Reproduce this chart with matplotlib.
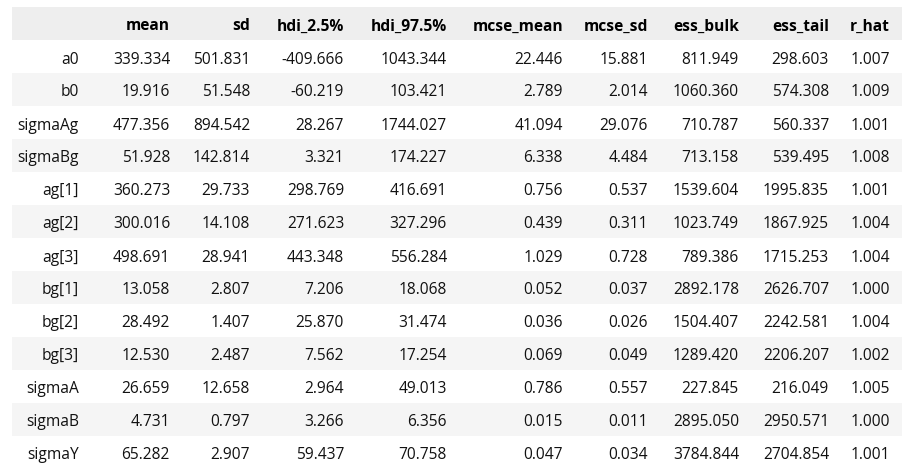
import matplotlib
matplotlib.use("Agg")
import matplotlib.pyplot as plt
from matplotlib.patches import Rectangle

columns = ["mean", "sd", "hdi_2.5%", "hdi_97.5%", "mcse_mean", "mcse_sd",
           "ess_bulk", "ess_tail", "r_hat"]
index = ["a0", "b0", "sigmaAg", "sigmaBg", "ag[1]", "ag[2]", "ag[3]",
         "bg[1]", "bg[2]", "bg[3]", "sigmaA", "sigmaB", "sigmaY"]
mean = [339.334, 19.916, 477.356, 51.928, 360.273, 300.016, 498.691,
        13.058, 28.492, 12.530, 26.659, 4.731, 65.282]
sd = [501.831, 51.548, 894.542, 142.814, 29.733, 14.108, 28.941,
      2.807, 1.407, 2.487, 12.658, 0.797, 2.907]
hdi_lo = [-409.666, -60.219, 28.267, 3.321, 298.769, 271.623, 443.348,
          7.206, 25.870, 7.562, 2.964, 3.266, 59.437]
hdi_hi = [1043.344, 103.421, 1744.027, 174.227, 416.691, 327.296, 556.284,
          18.068, 31.474, 17.254, 49.013, 6.356, 70.758]
mcse_mean = [22.446, 2.789, 41.094, 6.338, 0.756, 0.439, 1.029,
             0.052, 0.036, 0.069, 0.786, 0.015, 0.047]
mcse_sd = [15.881, 2.014, 29.076, 4.484, 0.537, 0.311, 0.728,
           0.037, 0.026, 0.049, 0.557, 0.011, 0.034]
ess_bulk = [811.949, 1060.360, 710.787, 713.158, 1539.604, 1023.749, 789.386,
            2892.178, 1504.407, 1289.420, 227.845, 2895.050, 3784.844]
ess_tail = [298.603, 574.308, 560.337, 539.495, 1995.835, 1867.925, 1715.253,
            2626.707, 2242.581, 2206.207, 216.049, 2950.571, 2704.854]
r_hat = [1.007, 1.009, 1.001, 1.008, 1.001, 1.004, 1.004,
         1.000, 1.004, 1.002, 1.005, 1.000, 1.001]

data = [mean, sd, hdi_lo, hdi_hi, mcse_mean, mcse_sd, ess_bulk, ess_tail, r_hat]

W, H = 908, 477
fig = plt.figure(figsize=(W / 100, H / 100), dpi=100)
ax = fig.add_axes([0, 0, 1, 1])
ax.set_xlim(0, W)
ax.set_ylim(H, 0)
ax.axis("off")

font = "Open Sans"
fs = 11.2
left, right = 12, 902
top, hh, rh = 8, 33, 33
idx_right = 79
col_right = [170, 250, 344, 447, 563, 648, 739, 829, 890]

ax.add_patch(Rectangle((left, top), right - left, hh, color="#eeeeee", lw=0))
for i in range(len(index)):
    y0 = top + hh + i * rh
    if i % 2 == 1:
        ax.add_patch(Rectangle((left, y0), right - left, rh, color="#f5f5f5", lw=0))

for c, name in enumerate(columns):
    ax.text(col_right[c], top + hh / 2, name, ha="right", va="center_baseline",
            fontsize=fs, fontweight="bold", family=font, color="#000000")

for i, name in enumerate(index):
    yc = top + hh + i * rh + rh / 2
    ax.text(idx_right, yc, name, ha="right", va="center_baseline",
            fontsize=fs, family=font, color="#111111")
    for c in range(len(columns)):
        ax.text(col_right[c], yc, f"{data[c][i]:.3f}", ha="right",
                va="center_baseline", fontsize=fs, family=font, color="#111111")

fig.savefig("out.png", dpi=100)
